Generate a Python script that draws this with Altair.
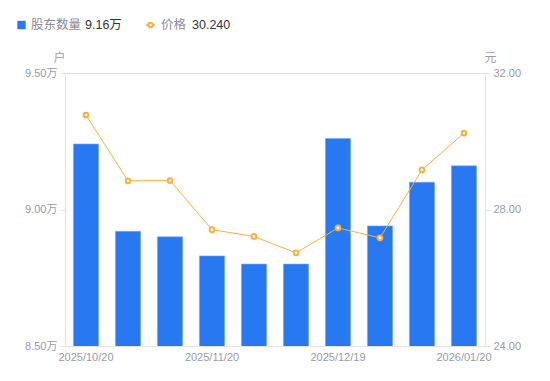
import altair as alt
import pandas as pd

dates = ["2025/10/20", "2025/10/31", "2025/11/10", "2025/11/20", "2025/11/28",
         "2025/12/10", "2025/12/19", "2025/12/31", "2026/01/09", "2026/01/20"]
holders = [9.24, 8.92, 8.90, 8.83, 8.80, 8.80, 9.26, 8.94, 9.10, 9.16]  # 万户
price = [30.77, 28.84, 28.85, 27.41, 27.21, 26.73, 27.46, 27.17, 29.16, 30.24]
shown_dates = ["2025/10/20", "2025/11/20", "2025/12/19", "2026/01/20"]
legend_names = ["股东数量", "价格"]
legend_values = ["9.16万", "30.240"]

FONT = "Liberation Sans, Noto Sans CJK SC"
GREY = "#9a9aa8"
AXIS_LINE = "#e3e3e8"
BLUE = "#2878f2"
ORANGE = "#f8b03a"

df = pd.DataFrame({"date": dates, "holders": holders, "price": price})

x_enc = alt.X(
    "date:O", sort=None,
    scale=alt.Scale(paddingInner=0.4, paddingOuter=0.2),
    axis=alt.Axis(
        title=None, labelAngle=0, ticks=False, domainColor=AXIS_LINE,
        labelColor=GREY, labelFontSize=11, labelFont=FONT, labelPadding=5,
        labelExpr="indexof(" + str(shown_dates) + ", datum.value) >= 0 ? datum.value : ''",
    ),
)

bars = alt.Chart(df).mark_bar(color=BLUE, stroke="#7aaaf5", strokeWidth=0.6, clip=True).encode(
    x=x_enc,
    y=alt.Y(
        "holders:Q",
        scale=alt.Scale(domain=[8.5, 9.5], zero=False, nice=False),
        axis=alt.Axis(
            values=[8.5, 9.0, 9.5], grid=False, domainColor=AXIS_LINE,
            tickColor=AXIS_LINE, tickSize=5, labelColor=GREY, labelFontSize=11,
            labelFont=FONT, labelPadding=3,
            labelExpr="format(datum.value, '.2f') + '万'",
            title="户", titleAngle=0, titleX=-6, titleY=-16, titleAlign="center",
            titleBaseline="middle", titleColor=GREY, titleFontSize=12,
            titleFontWeight="normal", titleFont=FONT,
        ),
    ),
)

line = alt.Chart(df).mark_line(
    color=ORANGE, strokeWidth=1,
    point=alt.OverlayMarkDef(filled=False, fill="white", stroke=ORANGE, strokeWidth=2, size=22),
).encode(
    x=x_enc,
    y=alt.Y(
        "price:Q",
        scale=alt.Scale(domain=[24, 32], zero=False, nice=False),
        axis=alt.Axis(
            orient="right", values=[24, 28, 32], grid=False, domainColor=AXIS_LINE,
            tickColor=AXIS_LINE, tickSize=5, labelColor=GREY, labelFontSize=11,
            labelFont=FONT, labelPadding=3, format=".2f",
            title="元", titleAngle=0, titleX=5, titleY=-16, titleAlign="center",
            titleBaseline="middle", titleColor=GREY, titleFontSize=12,
            titleFontWeight="normal", titleFont=FONT,
        ),
    ),
)

leg_df = pd.DataFrame({"name": legend_names, "val": legend_values})

leg_sq = alt.Chart(leg_df.iloc[[0]]).mark_square(color=BLUE, opacity=1, size=70).encode(
    x=alt.value(-43.5), y=alt.value(-48)
)
leg_ln = alt.Chart(leg_df.iloc[[1]]).mark_rule(color=ORANGE, strokeWidth=1.5).encode(
    x=alt.value(81), x2=alt.value(90), y=alt.value(-48)
)
leg_pt = alt.Chart(leg_df.iloc[[1]]).mark_point(
    filled=False, fill="white", stroke=ORANGE, strokeWidth=2, size=20, opacity=1
).encode(x=alt.value(85.5), y=alt.value(-48))

leg_n1 = alt.Chart(leg_df.iloc[[0]]).mark_text(
    align="left", baseline="middle", fontSize=12.5, color="#8a8a98", font=FONT
).encode(x=alt.value(-34), y=alt.value(-48), text="name:N")
leg_v1 = alt.Chart(leg_df.iloc[[0]]).mark_text(
    align="left", baseline="middle", fontSize=12.5, color="#333333", font=FONT
).encode(x=alt.value(20), y=alt.value(-48), text="val:N")
leg_n2 = alt.Chart(leg_df.iloc[[1]]).mark_text(
    align="left", baseline="middle", fontSize=12.5, color="#8a8a98", font=FONT
).encode(x=alt.value(96), y=alt.value(-48), text="name:N")
leg_v2 = alt.Chart(leg_df.iloc[[1]]).mark_text(
    align="left", baseline="middle", fontSize=12.5, color="#333333", font=FONT
).encode(x=alt.value(127), y=alt.value(-48), text="val:N")

chart = alt.layer(
    bars, line, leg_sq, leg_ln, leg_pt, leg_n1, leg_v1, leg_n2, leg_v2
).resolve_scale(y="independent").properties(
    width=420, height=273,
    autosize=alt.AutoSizeParams(type="none"),
    padding={"left": 57, "top": 65, "right": 57, "bottom": 35},
).configure_view(stroke=None).configure(background="white")

chart.save("out.html", embed_options={"renderer": "svg", "actions": False})
